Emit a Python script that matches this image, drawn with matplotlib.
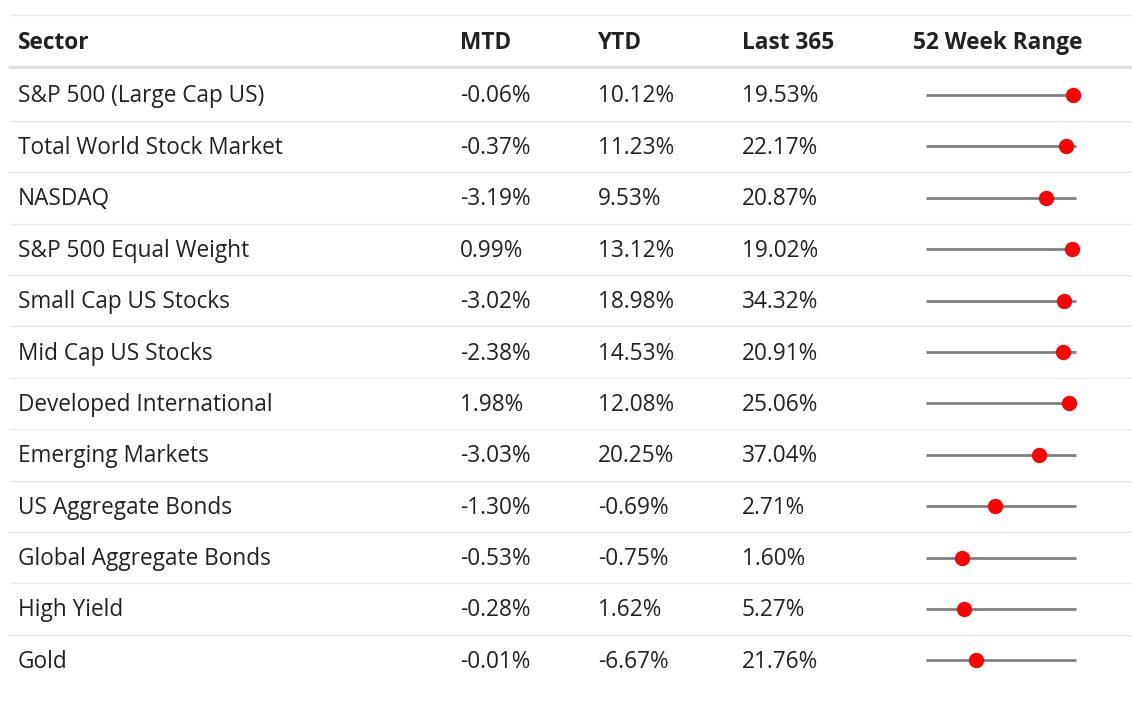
import matplotlib.pyplot as plt

sectors = ["S&P 500 (Large Cap US)", "Total World Stock Market", "NASDAQ",
           "S&P 500 Equal Weight", "Small Cap US Stocks", "Mid Cap US Stocks",
           "Developed International", "Emerging Markets", "US Aggregate Bonds",
           "Global Aggregate Bonds", "High Yield", "Gold"]
mtd = ["-0.06%", "-0.37%", "-3.19%", "0.99%", "-3.02%", "-2.38%",
       "1.98%", "-3.03%", "-1.30%", "-0.53%", "-0.28%", "-0.01%"]
ytd = ["10.12%", "11.23%", "9.53%", "13.12%", "18.98%", "14.53%",
       "12.08%", "20.25%", "-0.69%", "-0.75%", "1.62%", "-6.67%"]
last365 = ["19.53%", "22.17%", "20.87%", "19.02%", "34.32%", "20.91%",
           "25.06%", "37.04%", "2.71%", "1.60%", "5.27%", "21.76%"]
# position of current value within 52 week range (0 = low, 1 = high)
range_pos = [0.98, 0.93, 0.80, 0.97, 0.92, 0.91, 0.95, 0.75, 0.46, 0.24, 0.25, 0.33]
headers = ["Sector", "MTD", "YTD", "Last 365", "52 Week Range"]

plt.rcParams["font.family"] = ["Open Sans", "DejaVu Sans"]

W, H = 1132, 703
fig = plt.figure(figsize=(W / 100, H / 100), dpi=100)
ax = fig.add_axes([0, 0, 1, 1])
ax.set_xlim(0, W)
ax.set_ylim(H, 0)
ax.axis("off")

col_x = [18, 460, 598, 742]
txt = "#222222"
fs = 16.3

ax.axhline(15, xmin=10 / W, xmax=1, color="#e6e6e6", lw=1)
for x, h in zip(col_x, headers[:4]):
    ax.text(x, 43, h, fontsize=fs, fontweight="bold", color=txt, va="center")
ax.text(998, 43, headers[4], fontsize=fs, fontweight="bold", color=txt,
        va="center", ha="center")
ax.axhline(67, xmin=10 / W, xmax=1, color="#dddddd", lw=2.5)

row_h = 51.4
lo, hi = 926, 1076
for i, s in enumerate(sectors):
    y = 95 + i * row_h
    for x, v in zip(col_x, [s, mtd[i], ytd[i], last365[i]]):
        ax.text(x, y + 1.5, v, fontsize=fs, color=txt, va="center")
    ax.plot([lo, hi], [y, y], color="#7f7f7f", lw=2, solid_capstyle="butt")
    ax.plot(lo + range_pos[i] * (hi - lo), y, "o", color="red", ms=10)
    if i < len(sectors) - 1:
        ax.axhline(y + row_h / 2, xmin=10 / W, xmax=1, color="#e6e6e6", lw=1)

fig.savefig("out.png", dpi=100)
